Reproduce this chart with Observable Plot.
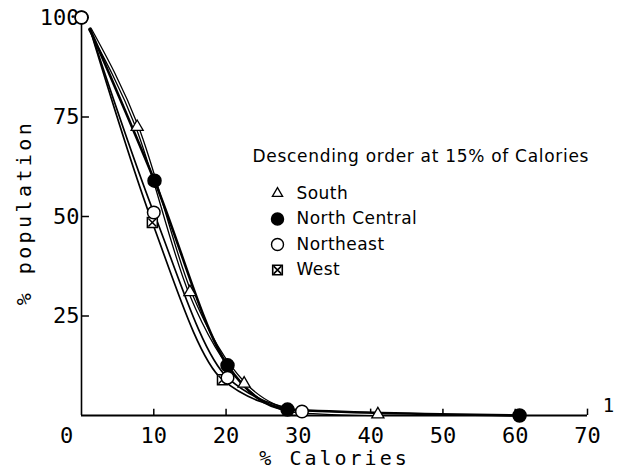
<!DOCTYPE html>
<html>
<head>
<meta charset="utf-8">
<script src="https://cdn.jsdelivr.net/npm/d3@7"></script>
<script src="https://cdn.jsdelivr.net/npm/@observablehq/plot@0.6"></script>
<style>
  html, body { margin: 0; padding: 0; background: #fff; }
  svg { display: block; }
</style>
</head>
<body>
<div id="chart"></div>
<script>
const categories = ["South", "North Central", "Northeast", "West"];
const southX = [1.2, 7.7, 15, 22.5, 30, 41];
const southY = [97, 72.5, 31, 8, 1, 0.3];
const ncX = [0, 1.2, 10.1, 20.2, 28.5, 60.6];
const ncY = [100, 97, 59, 12.6, 1.5, 0];
const neX = [0, 1.2, 10, 20.2, 30.5];
const neY = [100, 97, 51, 9.5, 1];
const westX = [1.2, 9.8, 19.5, 30];
const westY = [97, 48.5, 9, 1];
const xTicks = [0, 10, 20, 30, 40, 50, 60, 70];
const yTicks = [25, 50, 75, 100];
const legendTitle = "Descending order at 15% of Calories";
const xLabel = "% Calories";
const yLabel = "% population";
const cornerLabel = "1";

const toRows = (xs, ys, s) => xs.map((x, i) => ({x, y: ys[i], series: s, i}));
const south = toRows(southX, southY, categories[0]);
const nc = toRows(ncX, ncY, categories[1]);
const ne = toRows(neX, neY, categories[2]);
const west = toRows(westX, westY, categories[3]);

const mono = "DejaVu Sans Mono";
const sans = "DejaVu Sans";

const legendMarks = [];
const lx = 196, ly0 = 176, lstep = 25.5;
categories.forEach((c, k) => {
  const dy = ly0 + k * lstep;
  const base = {frameAnchor: "top-left", dx: lx, dy};
  if (k === 0) legendMarks.push(Plot.dot([c], {...base, symbol: "triangle", r: 3.8, fill: "white", stroke: "black", strokeWidth: 1.3}));
  if (k === 1) legendMarks.push(Plot.dot([c], {...base, r: 6, fill: "black", stroke: "black"}));
  if (k === 2) legendMarks.push(Plot.dot([c], {...base, r: 6, fill: "white", stroke: "black", strokeWidth: 1.4}));
  if (k === 3) {
    legendMarks.push(Plot.dot([c], {...base, symbol: "square", r: 5.4, fill: "white", stroke: "black", strokeWidth: 1.6}));
    legendMarks.push(Plot.dot([c], {...base, symbol: "times", r: 3.6, stroke: "black", strokeWidth: 1.6}));
  }
  legendMarks.push(Plot.text([c], {frameAnchor: "top-left", dx: lx + 19, dy, text: d => d, textAnchor: "start", lineAnchor: "middle", fontFamily: sans, fontSize: 17, fill: "black"}));
});

const chart = Plot.plot({
  width: 620,
  height: 476,
  marginLeft: 81,
  marginRight: 33,
  marginTop: 17,
  marginBottom: 61,
  x: {domain: [0, 70], axis: null},
  y: {domain: [0, 100], axis: null},
  marks: [
    // axes lines
    Plot.ruleY([0], {x1: 0, x2: 70, stroke: "black", strokeWidth: 1.8}),
    Plot.ruleX([0], {y1: 0, y2: 100, stroke: "black", strokeWidth: 1.6}),
    Plot.ruleX(xTicks.slice(1), {x: d => d, y1: 0, y2: 1.6, stroke: "black", strokeWidth: 1.5}),
    Plot.ruleY(yTicks, {y: d => d, x1: 0, x2: 1.1, stroke: "black", strokeWidth: 1.5}),
    // tick labels
    Plot.text(xTicks.slice(1), {x: d => d, y: 0, text: d => String(d), dy: 20, fontFamily: mono, fontSize: 22, fill: "black"}),
    Plot.text(xTicks.slice(0, 1), {x: d => d, y: 0, text: d => String(d), dy: 20, dx: -15, fontFamily: mono, fontSize: 22, fill: "black"}),
    Plot.text(yTicks, {x: 0, y: d => d, text: d => String(d), dx: -2, textAnchor: "end", fontFamily: mono, fontSize: 22, fill: "black"}),
    Plot.text([cornerLabel], {frameAnchor: "bottom-right", dx: 21, dy: -4, text: d => d, textAnchor: "middle", fontFamily: mono, fontSize: 19, fill: "black"}),
    // axis titles
    Plot.text([xLabel], {frameAnchor: "bottom", dy: 49, text: d => d, textAnchor: "middle", fontFamily: mono, fontSize: 20, fill: "black"}),
    Plot.text([yLabel], {frameAnchor: "left", dx: -57, dy: -4, rotate: -90, text: d => d, textAnchor: "middle", fontFamily: mono, fontSize: 20, fill: "black"}),
    // curves
    Plot.line(south, {x: "x", y: "y", curve: "monotone-x", stroke: "black", strokeWidth: 4}),
    Plot.line(south, {x: "x", y: "y", curve: "monotone-x", stroke: "white", strokeWidth: 1.4}),
    Plot.line(nc, {x: "x", y: "y", filter: d => d.i > 0, curve: "monotone-x", stroke: "black", strokeWidth: 2.6}),
    Plot.line(ne, {x: "x", y: "y", filter: d => d.i > 0, curve: "monotone-x", stroke: "black", strokeWidth: 1.7}),
    Plot.line(west, {x: "x", y: "y", curve: "monotone-x", stroke: "black", strokeWidth: 1.7}),
    // markers
    Plot.dot(west, {x: "x", y: "y", filter: d => d.i > 0 && d.x < 25, symbol: "square", r: 5.6, fill: "white", stroke: "black", strokeWidth: 1.5}),
    Plot.dot(west, {x: "x", y: "y", filter: d => d.i > 0 && d.x < 25, symbol: "times", r: 3.7, stroke: "black", strokeWidth: 1.5}),
    Plot.dot(south, {x: "x", y: "y", filter: d => d.i > 0 && d.x !== 30, symbol: "triangle", r: 4.5, fill: "white", stroke: "black", strokeWidth: 1.3}),
    Plot.dot(nc, {x: "x", y: "y", filter: d => d.i !== 1, r: 6.5, fill: "black", stroke: "black"}),
    Plot.dot(ne, {x: "x", y: "y", filter: d => d.i !== 1, r: 6.3, fill: "white", stroke: "black", strokeWidth: 1.5}),
    // legend
    Plot.text([legendTitle], {frameAnchor: "top-left", dx: 171, dy: 139, text: d => d, textAnchor: "start", lineAnchor: "middle", fontFamily: sans, fontSize: 17, fill: "black"}),
    ...legendMarks
  ]
});

// letter spacing (not a Plot option): apply to the rendered text nodes
const spacing = new Map([[xLabel, "3px"], [yLabel, "3.4px"], [legendTitle, "0.7px"]]);
categories.forEach(c => spacing.set(c, "0.45px"));
d3.select(chart).selectAll("text").each(function () {
  const s = spacing.get(this.textContent);
  if (s) d3.select(this).style("letter-spacing", s);
});
document.getElementById("chart").appendChild(chart);
</script>
</body>
</html>
